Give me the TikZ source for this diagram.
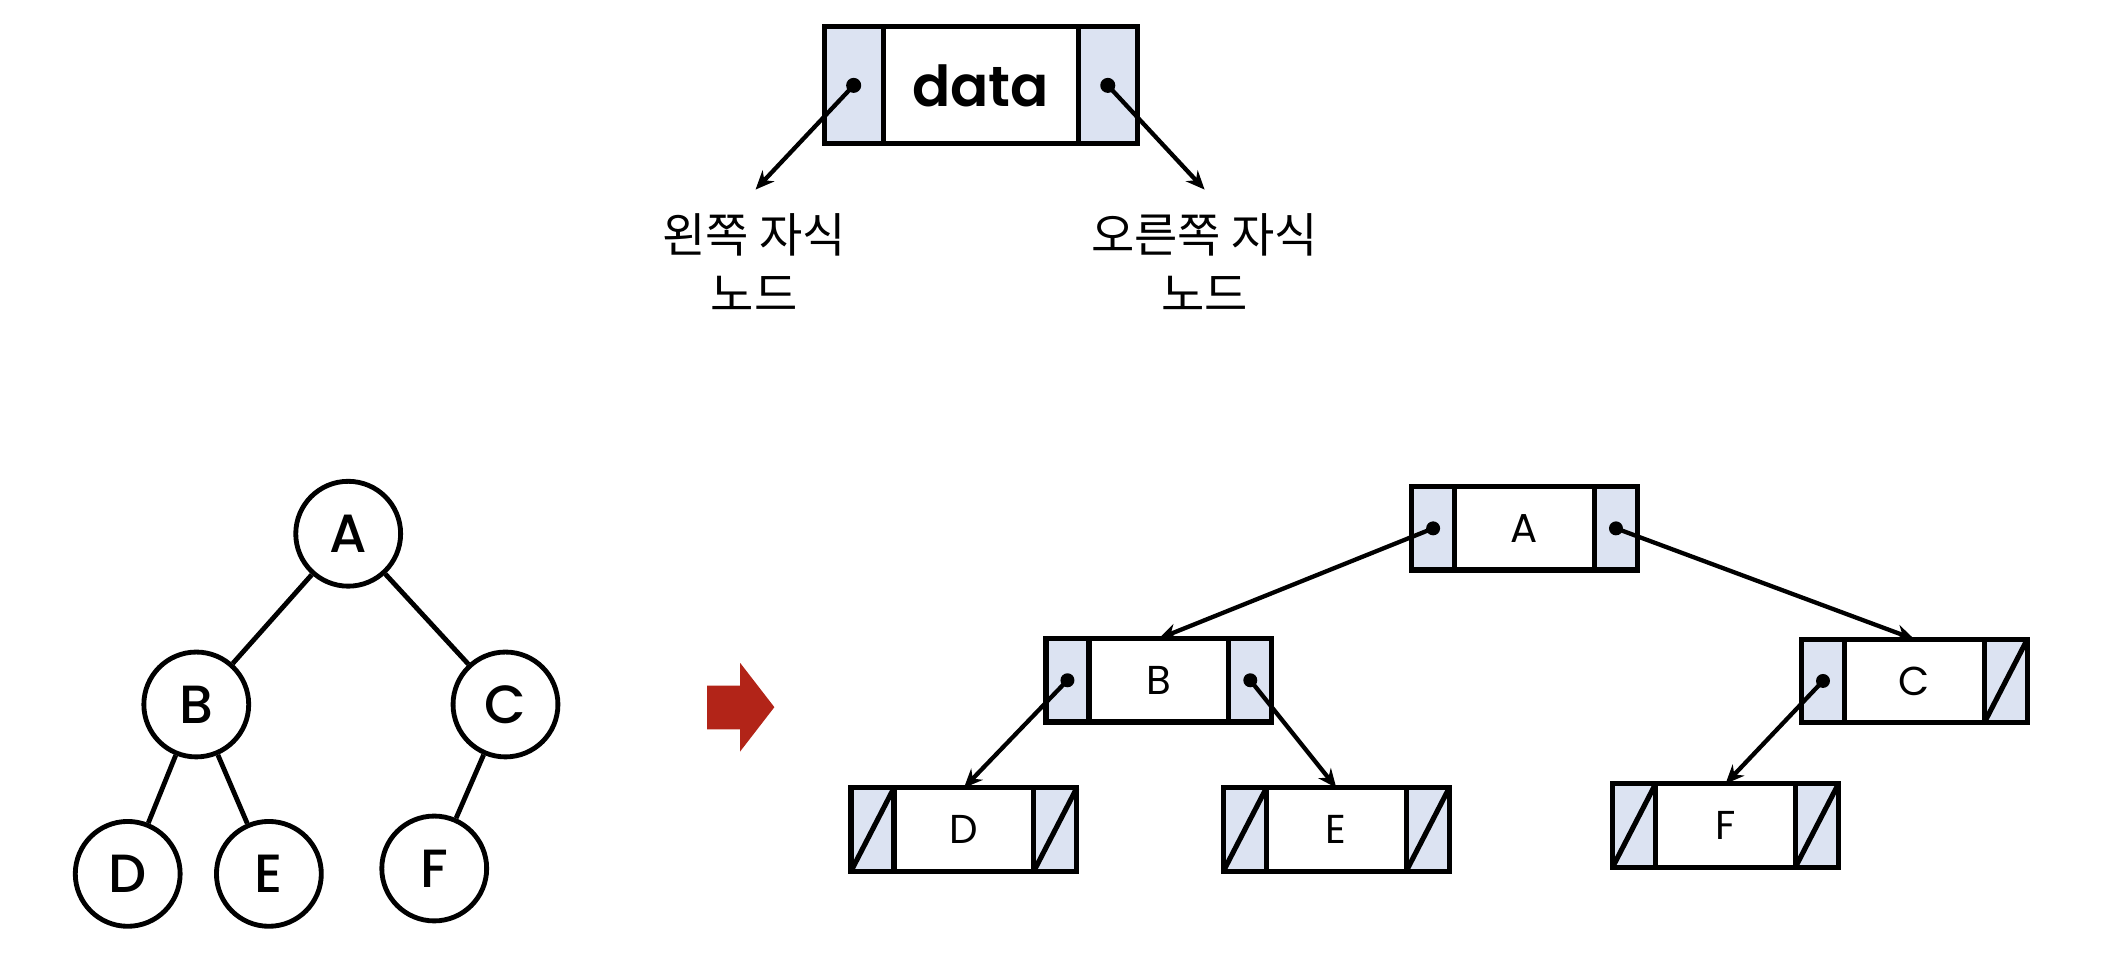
\documentclass[tikz,border=0pt]{standalone}
\usepackage{fontspec}
\setmainfont{Poppins}
\newfontfamily\medfont{Poppins Medium}
\newfontfamily\semifont{Poppins SemiBold}
\newfontfamily\krfont{Noto Sans CJK KR}
\usetikzlibrary{arrows.meta,positioning}
\definecolor{ptrfill}{RGB}{220,227,242}
\definecolor{markred}{RGB}{178,36,24}
% one linked-list node: name, position, data
\newcommand{\listnode}[3]{%
  \node[datacell] (#1) at (#2) {#3};
  \node[ptrcell,anchor=east] (#1l) at (#1.west) {};
  \node[ptrcell,anchor=west] (#1r) at (#1.east) {};}

\begin{document}
\begin{tikzpicture}[x=0.5pt,y=-0.5pt,
    cell/.style={draw,line width=1.9pt,outer sep=0pt,inner sep=0pt,minimum height=31pt},
    datacell/.style={cell,fill=white,minimum width=52pt,font=\fontsize{15}{18}\selectfont},
    ptrcell/.style={cell,fill=ptrfill,minimum width=16pt},
    link/.style={-{Stealth[length=7pt,width=6pt]},line width=1.6pt},
    nullmark/.style={line width=1.9pt},
    tnode/.style={circle,draw,line width=1.8pt,minimum size=39pt,inner sep=0pt,
                  font=\medfont\fontsize{20}{24}\selectfont},
    tedge/.style={line width=1.8pt},
    lbl/.style={font=\krfont\fontsize{17.5}{22}\selectfont,align=center},
  ]
  \useasboundingbox (0,0) rectangle (1568,719);

  % node layout
  \node[datacell,minimum width=72.5pt,minimum height=43.5pt,
        font=\semifont\fontsize{21}{26}\selectfont] (data) at (729.5,63.5) {data};
  \node[ptrcell,minimum width=22pt,minimum height=43.5pt,anchor=east] (datal) at (data.west) {};
  \node[ptrcell,minimum width=22pt,minimum height=43.5pt,anchor=west] (datar) at (data.east) {};
  \node[lbl] (lkid) at (561,195) {왼쪽 자식\\노드};
  \node[lbl] (rkid) at (896,195) {오른쪽 자식\\노드};
  \coordinate (ltip) at (562,141);
  \coordinate (rtip) at (896,141);
  \fill (datal.center) circle[radius=2.8pt];
  \fill (datar.center) circle[radius=2.8pt];
  \draw[link] (datal.center) -- (ltip);
  \draw[link] (datar.center) -- (rtip);

  % binary tree
  \node[tnode] (tA) at (259,397) {A};
  \node[tnode] (tB) at (146,524) {B};
  \node[tnode] (tC) at (376,524) {C};
  \node[tnode] (tD) at (95,650) {D};
  \node[tnode] (tE) at (200,650) {E};
  \node[tnode] (tF) at (323,646) {F};
  \draw[tedge] (tA) -- (tB);
  \draw[tedge] (tA) -- (tC);
  \draw[tedge] (tB) -- (tD);
  \draw[tedge] (tB) -- (tE);
  \draw[tedge] (tC) -- (tF);

  \fill[markred] (526,510) -- (550.5,510) -- (550.5,493) -- (576,526)
    -- (550.5,559) -- (550.5,542.5) -- (526,542.5) -- cycle;

  % linked representation
  \listnode{A}{1134,393}{A}
  \listnode{B}{862,506}{B}
  \listnode{C}{1424,506.5}{C}
  \listnode{D}{717,617}{D}
  \listnode{E}{994,617}{E}
  \listnode{F}{1283.5,614}{F}

  \foreach \n in {Al,Ar,Bl,Br,Cl}
    \fill (\n.center) circle[radius=2.6pt];
  \draw[link] (Al.center) -- (B.north);
  \draw[link] (Ar.center) -- (C.north);
  \draw[link] (Bl.center) -- (D.north);
  \draw[link] (Br.center) -- (E.north);
  \draw[link] (Cl.center) -- (F.north);

  \foreach \n in {Cr,Dl,Dr,El,Er,Fl,Fr}
    \draw[nullmark] (\n.south west) -- (\n.north east);
\end{tikzpicture}
\end{document}
